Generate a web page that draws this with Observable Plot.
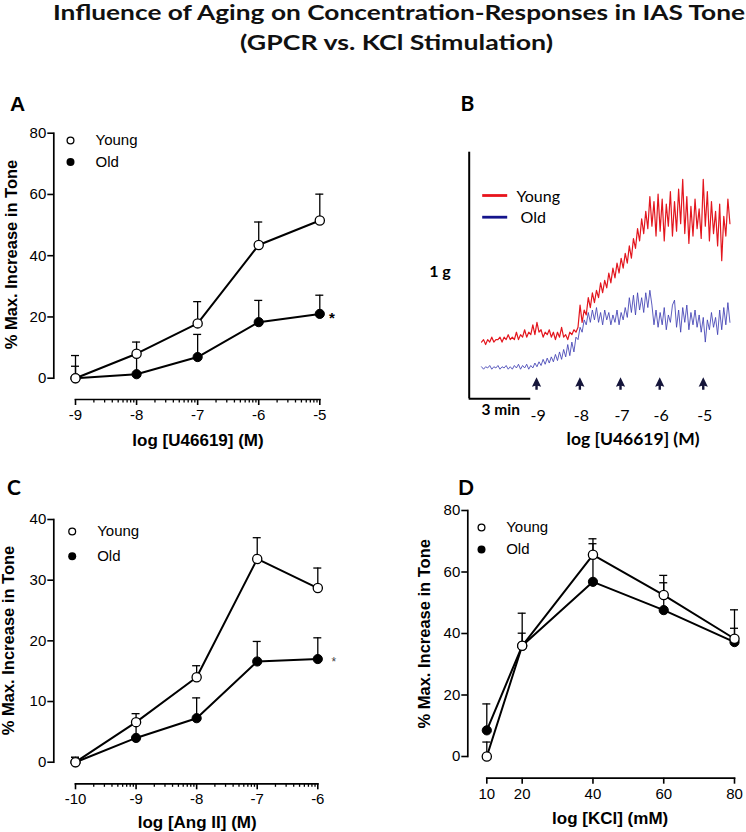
<!DOCTYPE html>
<html><head><meta charset="utf-8">
<script src="https://cdn.jsdelivr.net/npm/d3@7"></script>
<script src="https://cdn.jsdelivr.net/npm/@observablehq/plot@0.6"></script>
<style>
body{margin:0;background:#fff;}
#fig{position:relative;width:746px;height:832px;overflow:hidden;background:#fff;}
#fig svg{position:absolute;overflow:visible;}
</style></head><body><div id="fig"></div>
<script>
// ---------- DATA ----------
const titleLines = ["Influence of Aging on Concentration-Responses in IAS Tone", "(GPCR vs. KCl Stimulation)"];
const seriesNames = ["Young", "Old"];

// Panel A: U46619
const aDoses = [-9, -8, -7, -6, -5];
const aYoung = [0, 8.0, 17.9, 43.5, 51.5];
const aYoungErr = [7.4, 3.8, 7.1, 7.5, 8.6];
const aOld = [0, 1.3, 6.9, 18.3, 21.0];
const aOldErr = [3.9, 6.2, 7.4, 7.1, 6.1];
const aYTicks = [0, 20, 40, 60, 80];
const aXLabel = "log [U46619] (M)";

// Panel C: Ang II
const cDoses = [-10, -9, -8, -7, -6];
const cYoung = [0, 6.6, 14.0, 33.5, 28.7];
const cYoungErr = [0.8, 1.4, 1.9, 3.5, 3.3];
const cOld = [0, 4.0, 7.25, 16.6, 17.0];
const cOldErr = [0.8, 2.6, 3.35, 3.3, 3.5];
const cYTicks = [0, 10, 20, 30, 40];
const cXLabel = "log [Ang II] (M)";

// Panel D: KCl
const dDoses = [10, 20, 40, 60, 80];
const dYoung = [0, 36.0, 65.6, 52.5, 38.3];
const dYoungErr = [4.7, 4.1, 5.2, 4.0, 3.4];
const dOld = [8.5, 36.0, 56.8, 47.6, 37.2];
const dOldErr = [8.6, 10.6, 12.4, 11.3, 10.5];
const dYTicks = [0, 20, 40, 60, 80];
const dXLabel = "log [KCl] (mM)";

const yLabel = "% Max. Increase in Tone";

// Panel B: tension traces (g), sampled every 0.1 min from 0.6 min
const traceStart = 0.6, traceStep = 0.1;
const traceYoung = [
  .23,.24,.22,.24,.23,.25,.23,.24,.24,.25,
  .23,.25,.24,.26,.24,.25,.24,.27,.24,.26,
  .25,.28,.25,.27,.26,.30,.26,.31,.27,.28,
  .25,.27,.26,.28,.25,.27,.24,.27,.25,.29,
  .25,.26,.24,.27,.26,.28,.27,.29,.38,.31,
  .36,.34,.41,.37,.43,.39,.44,.41,.47,.43,
  .48,.45,.51,.47,.53,.49,.55,.51,.57,.53,
  .59,.55,.62,.57,.65,.61,.69,.64,.73,.67,
  .76,.69,.82,.70,.80,.66,.83,.68,.81,.64,
  .79,.70,.84,.66,.80,.68,.85,.71,.89,.67,
  .82,.63,.78,.66,.81,.69,.77,.65,.89,.70,
  .84,.64,.80,.67,.76,.62,.79,.56,.74,.66,
  .81,.71];
const traceOld = [
  .13,.12,.13,.125,.135,.12,.13,.125,.135,.12,
  .13,.125,.135,.12,.13,.12,.135,.125,.14,.12,
  .135,.125,.14,.12,.135,.125,.145,.13,.15,.135,
  .16,.14,.165,.145,.17,.15,.18,.155,.19,.16,
  .20,.17,.22,.175,.23,.19,.25,.24,.29,.27,
  .32,.30,.35,.31,.36,.32,.37,.31,.35,.30,
  .36,.32,.35,.30,.34,.31,.36,.30,.35,.32,
  .37,.33,.41,.35,.42,.34,.43,.36,.41,.35,
  .43,.37,.44,.38,.30,.36,.29,.35,.30,.37,
  .28,.34,.31,.38,.40,.29,.36,.27,.37,.31,
  .38,.28,.35,.30,.36,.29,.34,.27,.33,.23,
  .32,.28,.35,.29,.33,.26,.36,.28,.37,.30,
  .39,.31];
const arrowTimes = [3.28, 5.39, 7.37, 9.28, 11.40];   // min
const arrowDoses = ["-9", "-8", "-7", "-6", "-5"];
const scaleBarGrams = [1];
const scaleBarMinutes = [3];
const bXLabel = "log [U46619] (M)";

// ---------- HELPERS ----------
const fig = document.getElementById("fig");
const ARIAL = "'Liberation Sans', Arial, sans-serif";
const CALIBRI = "Lato, 'Open Sans', sans-serif";

function place(svg, left, top) {
  svg.style.left = left + "px";
  svg.style.top = top + "px";
  fig.appendChild(svg);
}
const label = (t, o) => Plot.text([t], {text: d => d, ...o});

function logMinor(lo, hi) {
  const out = [];
  for (let d = lo; d < hi; d++) for (let k = 2; k <= 9; k++) out.push(d + Math.log10(k));
  return out;
}

function responsePanel(p) {
  const young = p.doses.map((x, i) => ({x, y: p.young[i], top: p.young[i] + p.youngErr[i]}));
  const old = p.doses.map((x, i) => ({x, y: p.old[i], top: p.old[i] + p.oldErr[i]}));
  const L = p.layout;
  const marks = [
    Plot.frame({anchor: "left", insetBottom: L.yInset, strokeWidth: 1.7}),
    Plot.frame({anchor: "bottom", insetLeft: L.xInset, strokeWidth: 1.7}),
    Plot.axisY({ticks: p.yTicks, anchor: "left", tickSize: 6, tickPadding: 1.5, strokeWidth: 1.6, label: null}),
    Plot.axisX({ticks: p.doses, anchor: "bottom", tickSize: 6, tickPadding: 4, strokeWidth: 1.6, label: null, tickFormat: d => String(d)})
  ];
  if (p.minor) marks.push(Plot.axisX({ticks: logMinor(p.doses[0], p.doses[p.doses.length - 1]), anchor: "bottom", tickSize: 3.5, strokeWidth: 1.3, label: null, tickFormat: () => ""}));
  for (const s of [young, old]) {
    marks.push(Plot.line(s, {x: "x", y: "y", stroke: "#000", strokeWidth: 2}));
    marks.push(Plot.ruleX(s, {x: "x", y1: "y", y2: "top", stroke: "#000", strokeWidth: 1.3}));
    marks.push(Plot.ruleY(s, {x1: "x", x2: "x", y: "top", insetLeft: -4, insetRight: -4, stroke: "#000", strokeWidth: 1.3}));
  }
  marks.push(Plot.dot(old, {x: "x", y: "y", r: 4.6, fill: "#000", stroke: "#000", strokeWidth: 1}));
  marks.push(Plot.dot(young, {x: "x", y: "y", r: 4.6, fill: "#fff", stroke: "#000", strokeWidth: 1.3}));
  if (p.star) marks.push(Plot.text(old.slice(-1), {x: "x", y: "y", text: () => "*", ...p.star}));
  // legend
  const G = p.legend;
  marks.push(Plot.dot([0], {frameAnchor: "top-left", dx: G.dx, dy: G.dy[0], r: 3.4, fill: "#fff", stroke: "#000", strokeWidth: 1.3}));
  marks.push(Plot.dot([0], {frameAnchor: "top-left", dx: G.dx, dy: G.dy[1], r: 4, fill: "#000"}));
  marks.push(label(seriesNames[0], {frameAnchor: "top-left", dx: G.tx, dy: G.dy[0], textAnchor: "start", lineAnchor: "middle", fontSize: 15}));
  marks.push(label(seriesNames[1], {frameAnchor: "top-left", dx: G.tx, dy: G.dy[1], textAnchor: "start", lineAnchor: "middle", fontSize: 15}));
  // titles
  marks.push(label(yLabel, {frameAnchor: "left", rotate: -90, dx: p.yTitle[0], dy: p.yTitle[1], fontWeight: "bold", fontSize: 16.5, textAnchor: "middle", lineAnchor: "middle"}));
  marks.push(label(p.xLabel, {frameAnchor: "bottom", dx: p.xTitle[0], dy: p.xTitle[1], fontWeight: "bold", fontSize: 17, textAnchor: "middle", lineAnchor: "middle"}));
  marks.push(label(p.letter, {frameAnchor: "top-left", dx: p.letterPos[0], dy: p.letterPos[1], fontWeight: "bold", fontSize: 21, textAnchor: "middle", lineAnchor: "middle", fontFamily: p.letterFont}));
  return Plot.plot({
    width: L.width, height: L.height,
    marginLeft: L.ml, marginRight: L.mr, marginTop: L.mt, marginBottom: L.mb,
    style: {fontFamily: ARIAL, fontSize: "15px", color: "#000", background: "transparent", overflow: "visible"},
    x: {type: "linear", domain: [p.doses[0], p.doses[p.doses.length - 1]], insetLeft: L.xInset},
    y: {domain: [p.yTicks[0], p.yTicks[p.yTicks.length - 1]], insetBottom: L.yInset},
    marks
  });
}

// ---------- TITLE ----------
{
  const ns = "http://www.w3.org/2000/svg";
  const svg = document.createElementNS(ns, "svg");
  svg.setAttribute("width", 746); svg.setAttribute("height", 60);
  const specs = [[399, 19.5, 692], [396.5, 49.5, 313]];
  titleLines.forEach((t, i) => {
    const el = document.createElementNS(ns, "text");
    el.setAttribute("x", specs[i][0]); el.setAttribute("y", specs[i][1]);
    el.setAttribute("text-anchor", "middle");
    el.setAttribute("textLength", specs[i][2]);
    el.setAttribute("lengthAdjust", "spacingAndGlyphs");
    el.setAttribute("font-family", CALIBRI);
    el.setAttribute("font-weight", "bold");
    el.setAttribute("font-size", "21");
    el.setAttribute("fill", "#111");
    el.textContent = t;
    svg.appendChild(el);
  });
  place(svg, 0, 0);
}

// ---------- PANEL A ----------
place(responsePanel({
  doses: aDoses, young: aYoung, youngErr: aYoungErr, old: aOld, oldErr: aOldErr,
  yTicks: aYTicks, xLabel: aXLabel, minor: true, letter: "A", letterFont: ARIAL,
  layout: {width: 373, height: 375, ml: 53.3, mr: 53.7, mt: 52.7, mb: 56, xInset: 21.7, yInset: 21.3},
  legend: {dx: 16.7, tx: 41.7, dy: [7.3, 28.8]},
  star: {dx: 12, dy: 4, fontSize: 15, fontWeight: "bold"},
  yTitle: [-42.3, -11.85], xTitle: [11.2, 41], letterPos: [-36.3, -28.7]
}), 0, 80);

// ---------- PANEL C ----------
place(responsePanel({
  doses: cDoses, young: cYoung, youngErr: cYoungErr, old: cOld, oldErr: cOldErr,
  yTicks: cYTicks, xLabel: cXLabel, minor: true, letter: "C", letterFont: CALIBRI,
  layout: {width: 373, height: 377, ml: 53.3, mr: 55.7, mt: 64, mb: 48.7, xInset: 21.7, yInset: 21.6},
  legend: {dx: 18.4, tx: 43.4, dy: [12, 36.7]},
  star: {dx: 16, dy: 3, fontSize: 12, fill: "#444"},
  yTitle: [-44.8, -11.15], xTitle: [11.4, 38.7], letterPos: [-39.8, -31.5]
}), 0, 455);

// ---------- PANEL D ----------
place(responsePanel({
  doses: dDoses, young: dYoung, youngErr: dYoungErr, old: dOld, oldErr: dOldErr,
  yTicks: dYTicks, xLabel: dXLabel, minor: false, letter: "D", letterFont: CALIBRI,
  layout: {width: 373, height: 377, ml: 94.3, mr: 12, mt: 55, mb: 54.3, xInset: 19, yInset: 21.7},
  legend: {dx: 13.7, tx: 38.4, dy: [17, 39]},
  star: null,
  yTitle: [-42.6, -10.55], xTitle: [9, 40.6], letterPos: [-1.8, -22.5]
}), 373, 455);

// ---------- PANEL B ----------
{
  const young = traceYoung.map((g, i) => ({t: traceStart + i * traceStep, g}));
  const old = traceOld.map((g, i) => ({t: traceStart + i * traceStep, g}));
  const arrows = arrowTimes.map((t, i) => ({t, dose: arrowDoses[i]}));
  const arrowHead = {draw(ctx) {
    ctx.moveTo(0, -6.3); ctx.lineTo(4.6, 3.2); ctx.lineTo(1.2, 2.2); ctx.lineTo(1.2, 6.3);
    ctx.lineTo(-1.2, 6.3); ctx.lineTo(-1.2, 2.2); ctx.lineTo(-4.6, 3.2); ctx.closePath();
  }};
  const legendLine = {draw(ctx) { ctx.moveTo(-12.5, 0); ctx.lineTo(12.5, 0); }};
  const svg = Plot.plot({
    width: 373, height: 375, marginLeft: 95.7, marginRight: 10.4, marginTop: 71.7, marginBottom: 56.7,
    style: {fontFamily: CALIBRI, fontSize: "16px", color: "#000", background: "transparent", overflow: "visible"},
    x: {domain: [0, 13], axis: null},
    y: {domain: [0, 1], axis: null},
    marks: [
      Plot.ruleX(scaleBarGrams, {x: () => 0, y1: () => 0, y2: d => d, stroke: "#000", strokeWidth: 2}),
      Plot.ruleY(scaleBarMinutes, {y: () => 0, x1: () => 0, x2: d => d, stroke: "#000", strokeWidth: 2}),
      Plot.text(scaleBarGrams, {x: () => 0, y: d => d / 2, text: d => d + " g", textAnchor: "end", dx: -18.4, dy: -4, fontWeight: "bold", fontSize: 16, lineAnchor: "middle"}),
      Plot.text(scaleBarMinutes, {x: d => d / 2, y: () => 0, text: d => d + " min", dx: 0.8, dy: 11, fontWeight: "bold", fontSize: 15.5, lineAnchor: "middle"}),
      Plot.line(young, {x: "t", y: "g", stroke: "#e3161e", strokeWidth: 1.2}),
      Plot.line(old, {x: "t", y: "g", stroke: "#4040b4", strokeWidth: 0.85}),
      Plot.dot(arrows, {x: "t", frameAnchor: "bottom", dy: -15.3, symbol: arrowHead, fill: "#15153a", stroke: "none"}),
      Plot.text(arrows, {x: "t", text: "dose", frameAnchor: "bottom", dy: 16.7, dx: 1.5, fontSize: 16, textAnchor: "middle", lineAnchor: "middle"}),
      label(bXLabel, {frameAnchor: "bottom", dx: 30.4, dy: 40.2, fontWeight: "bold", fontSize: 17.5, textAnchor: "middle", lineAnchor: "middle"}),
      label("B", {frameAnchor: "top-left", dx: -1.7, dy: -47.7, fontWeight: "bold", fontSize: 21, textAnchor: "middle", lineAnchor: "middle"}),
      Plot.dot([0], {frameAnchor: "top-left", dx: 25.5, dy: 43.3, symbol: legendLine, stroke: "#e8141c", strokeWidth: 2.8, fill: "none"}),
      Plot.dot([0], {frameAnchor: "top-left", dx: 25.5, dy: 65, symbol: legendLine, stroke: "#14148c", strokeWidth: 2.8, fill: "none"}),
      label(seriesNames[0], {frameAnchor: "top-left", dx: 47.3, dy: 44.5, textAnchor: "start", lineAnchor: "middle", fontSize: 16}),
      label(seriesNames[1], {frameAnchor: "top-left", dx: 51.3, dy: 66, textAnchor: "start", lineAnchor: "middle", fontSize: 16})
    ]
  });
  place(svg, 373, 80);
}
</script></body></html>
